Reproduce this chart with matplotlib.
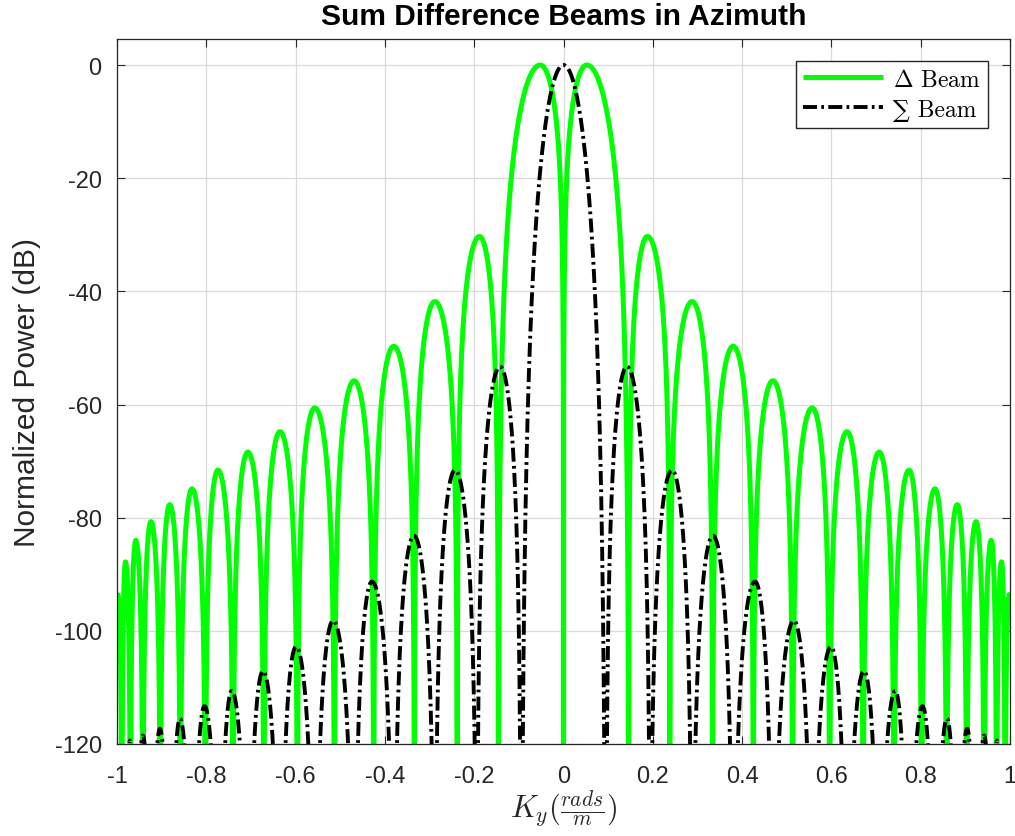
import numpy as np
import matplotlib
matplotlib.use('Agg')
import matplotlib.pyplot as plt

# ---- values (right half, pattern is symmetric) ----
# Delta (difference) beam: lobe peaks and nulls
delta_peak_x = [0.052, 0.188, 0.288, 0.380, 0.469, 0.557, 0.635, 0.707, 0.774,
                0.832, 0.882, 0.924, 0.958, 0.981, 0.998]
delta_peak_db = [0.0, -30.3, -41.8, -49.7, -55.8, -60.6, -64.8, -68.4, -71.6,
                 -74.9, -77.7, -80.7, -84.0, -87.8, -93.6]
delta_null_x = [0.0, 0.146, 0.238, 0.334, 0.425, 0.513, 0.596, 0.671, 0.740,
                0.802, 0.858, 0.903, 0.942, 0.970, 0.989]

# Sum beam: lobe peaks and nulls
sum_peak_x = [0.0, 0.142, 0.243, 0.335, 0.429, 0.516, 0.599, 0.673, 0.743,
              0.804, 0.859, 0.904, 0.942, 0.971]
sum_peak_db = [0.0, -53.3, -71.6, -83.2, -91.3, -98.2, -102.8, -107.1, -110.6,
               -113.3, -115.5, -117.3, -118.5, -119.4]
sum_null_x = [0.095, 0.194, 0.288, 0.380, 0.469, 0.557, 0.635, 0.707, 0.772,
              0.832, 0.882, 0.924, 0.960, 0.982]

x_ticks = [-1, -0.8, -0.6, -0.4, -0.2, 0, 0.2, 0.4, 0.6, 0.8, 1]
x_ticklabels = ['-1', '-0.8', '-0.6', '-0.4', '-0.2', '0', '0.2', '0.4', '0.6', '0.8', '1']
y_ticks = [-120, -100, -80, -60, -40, -20, 0]


def anchors(peak_x, peak_db, null_x):
    # merge peaks/nulls of the right half, mirror to the left half
    pts = [(x, d) for x, d in zip(peak_x, peak_db)] + [(x, None) for x in null_x]
    right = sorted(pts, key=lambda p: p[0])
    left = [(-x, d) for x, d in reversed(right) if x > 0]
    return left + right


def lobes(pts, kfun, n=160):
    xs, ys = [], []
    for (x0, d0), (x1, d1) in zip(pts[:-1], pts[1:]):
        t = np.linspace(0, 1, n)
        xx = x0 + (x1 - x0) * t
        if d0 is None:          # null -> peak
            xn, level = x0, d1
        else:                   # peak -> null
            xn, level = x1, d0
            t = 1 - t
        k = kfun(level, xn)
        yy = level + 20 * k * np.log10(np.maximum(np.sin(np.pi / 2 * t), 1e-9))
        xs.append(xx)
        ys.append(yy)
    return np.concatenate(xs), np.maximum(np.concatenate(ys), -300)


def k_delta(level, xn):
    if level == 0:
        return 1.5 if xn == 0 else 3.0
    return 2.0


def k_sum(level, xn):
    return 5.0 if level == 0 else 3.0


dx, dy = lobes(anchors(delta_peak_x, delta_peak_db, delta_null_x), k_delta)
dx = np.concatenate([[-1.0], dx, [1.0]])
dy = np.concatenate([[dy[0]], dy, [dy[-1]]])
sx, sy = lobes(anchors(sum_peak_x, sum_peak_db, sum_null_x), k_sum)

plt.rcParams['mathtext.fontset'] = 'cm'
plt.rcParams['axes.unicode_minus'] = False
plt.rcParams['font.family'] = ['Liberation Sans', 'DejaVu Sans']

fig = plt.figure(figsize=(10.15, 8.37), dpi=100)
ax = fig.add_axes([117 / 1015, 1 - 745 / 837, (1010 - 117) / 1015, (745 - 40) / 837])

ax.plot(dx, dy, color='#00ff00', lw=3.6, label=r'$\Delta$ Beam', solid_capstyle='butt')
ax.plot(sx, sy, color='black', lw=2.8, linestyle=(0, (3.6, 1.1, 0.7, 1.1)),
        label='\u2211 Beam')

ax.set_xlim(-1, 1)
ax.set_ylim(-120, 4.6)
ax.set_xticks(x_ticks)
ax.set_xticklabels(x_ticklabels)
ax.set_yticks(y_ticks)
ax.grid(True, color='#dadada', lw=0.9)
ax.set_axisbelow(True)
ax.tick_params(direction='in', length=6, width=0.8, top=True, right=True,
               labelsize=17, colors='#262626')
ax.tick_params(axis='x', pad=15)
ax.tick_params(axis='y', pad=11)
for s in ax.spines.values():
    s.set_color('#262626')
    s.set_linewidth(0.9)

ax.set_title('Sum Difference Beams in Azimuth', fontsize=21.5, fontweight='bold', pad=10.5)
ax.set_ylabel('Normalized Power (dB)', fontsize=21.5, color='#262626', labelpad=9.5)
ax.set_xlabel(r'$K_y(\frac{rads}{m})$', fontsize=22, color='#262626', labelpad=0)

leg = ax.legend(loc='upper right', prop={'family': ['cmr10', 'DejaVu Serif'], 'size': 17},
                handlelength=3.4, fancybox=False, framealpha=1, edgecolor='#262626',
                borderaxespad=0.95, handletextpad=0.4, labelspacing=0.33,
                borderpad=0.3)
leg.get_frame().set_linewidth(1.0)

fig.savefig('out.png', dpi=100)
